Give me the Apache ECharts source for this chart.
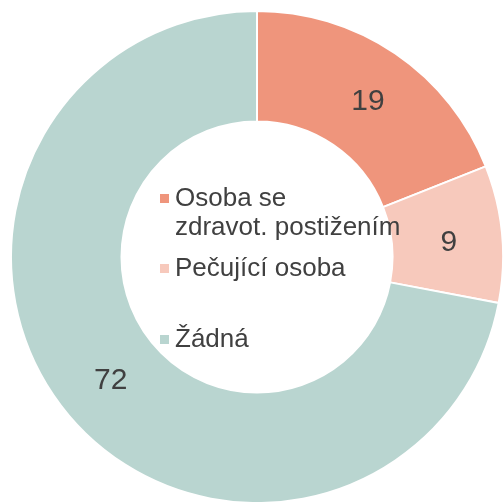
<!DOCTYPE html>
<html>
<head>
<meta charset="utf-8">
<style>html,body{margin:0;padding:0;background:#fff}#c{width:504px;height:502px}</style>
<script src="https://cdn.jsdelivr.net/npm/echarts@6/dist/echarts.min.js"></script>
</head>
<body>
<div id="c"></div>
<script>
const categories = ['Osoba se zdravot. postižením', 'Pečující osoba', 'Žádná'];
const legendLabels = [' \nOsoba se\nzdravot. postižením', 'Pečující osoba', 'Žádná'];
const values = [19, 9, 72];
const colors = ['#EF957C', '#F7C9BC', '#B9D5D0'];
const labelOffsets = [[2, 5], [-1, 4], [3, 0]];

const chart = echarts.init(document.getElementById('c'), null, {renderer: 'canvas'});
const font = 'Liberation Sans, Arial, Helvetica, sans-serif';
const iconTops = [193, 263, 334];
const legends = categories.map((name, i) => ({
  data: [name],
  orient: 'vertical',
  left: 158,
  top: iconTops[i] - (i === 0 ? 38 : 9),
  padding: 0,
  icon: 'rect',
  itemWidth: 11,
  itemHeight: 11,
  selectedMode: false,
  formatter: () => legendLabels[i],
  textStyle: {
    fontFamily: font,
    fontSize: 26,
    lineHeight: 29,
    color: '#404040'
  }
}));

chart.setOption({
  animation: false,
  legend: legends,
  series: [{
    type: 'pie',
    center: [257, 257],
    radius: [135.5, 246],
    startAngle: 90,
    clockwise: true,
    avoidLabelOverlap: false,
    silent: true,
    itemStyle: {borderColor: '#ffffff', borderWidth: 2},
    label: {
      show: true,
      position: 'inside',
      formatter: '{c}',
      fontFamily: font,
      fontSize: 30,
      color: '#404040'
    },
    labelLine: {show: false},
    data: categories.map((name, i) => ({
      name, value: values[i],
      itemStyle: {color: colors[i]},
      label: {offset: labelOffsets[i]}
    }))
  }]
});
</script>
</body>
</html>
